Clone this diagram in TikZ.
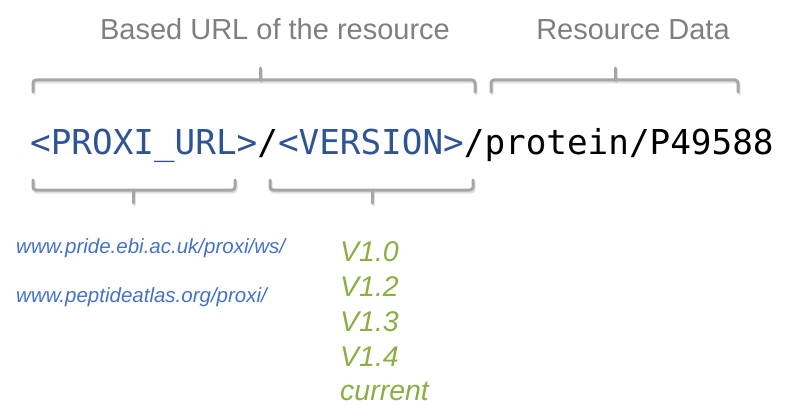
\documentclass[tikz,border=0pt]{standalone}
\usepackage{fontspec}
\setmainfont{Liberation Sans}
\newfontfamily\monofont{DejaVu Sans Mono}
\definecolor{titlegray}{HTML}{7F7F7F}
\definecolor{brgray}{HTML}{A6A6A6}
\definecolor{mainblue}{HTML}{2F5496}
\definecolor{urlblue}{HTML}{4472C4}
\definecolor{vgreen}{HTML}{8BAF46}
\tikzset{
  title/.style={text=titlegray, font=\fontsize{29}{34}\selectfont, anchor=base, inner sep=0pt},
  urltext/.style={text=urlblue, font=\fontsize{20.5}{24}\selectfont\itshape, anchor=base west, inner sep=0pt},
  vertext/.style={text=vgreen, font=\fontsize{28.5}{32}\selectfont\itshape, anchor=base west, inner sep=0pt},
  brace/.style={draw=brgray, line width=3pt, rounded corners=3pt, line cap=round},
  braceshadow/.style={draw=black!35, opacity=0.35, line width=3pt, rounded corners=3pt, line cap=round}
}
\begin{document}
\begin{tikzpicture}[x=1pt,y=-1pt]
\useasboundingbox (0,0) rectangle (790,417);
% titles
\node[title] (t1) at (275,40) {Based URL of the resource};
\node[title] (t2) at (633,40) {Resource Data};
% top braces
\foreach \l/\r/\m in {33/475/260, 491/738/615}{
  \draw[braceshadow] (\l+1,94) -- (\l+1,82) -- (\r+1,82) -- (\r+1,94);
  \draw[braceshadow] (\m+1,82) -- (\m+1,70);
  \draw[brace] (\l,92) -- (\l,80) -- (\r,80) -- (\r,92);
  \draw[brace] (\m,80) -- (\m,68);
}
% main line
\node[anchor=base west, inner sep=0pt, font=\monofont\fontsize{34.3}{40}\selectfont] (main) at (30,154)
  {\textcolor{mainblue}{<PROXI\_URL>}/\textcolor{mainblue}{<VERSION>}/protein/P49588};
% bottom braces
\foreach \l/\r/\m in {33/235/133, 270/473/372}{
  \draw[braceshadow] (\l+1,182) -- (\l+1,192) -- (\r+1,192) -- (\r+1,182);
  \draw[braceshadow] (\m+1,192) -- (\m+1,205);
  \draw[brace] (\l,180) -- (\l,190) -- (\r,190) -- (\r,180);
  \draw[brace] (\m,190) -- (\m,203);
}
% urls
\node[urltext] (u1) at (16,253) {www.pride.ebi.ac.uk/proxi/ws/};
\node[urltext] (u2) at (16,302) {www.peptideatlas.org/proxi/};
% versions
\node[vertext] (v0) at (340,261) {V1.0};
\node[vertext] (v2) at (340,296) {V1.2};
\node[vertext] (v3) at (340,331) {V1.3};
\node[vertext] (v4) at (340,366) {V1.4};
\node[vertext] (vc) at (340,400) {current};
\end{tikzpicture}
\end{document}
